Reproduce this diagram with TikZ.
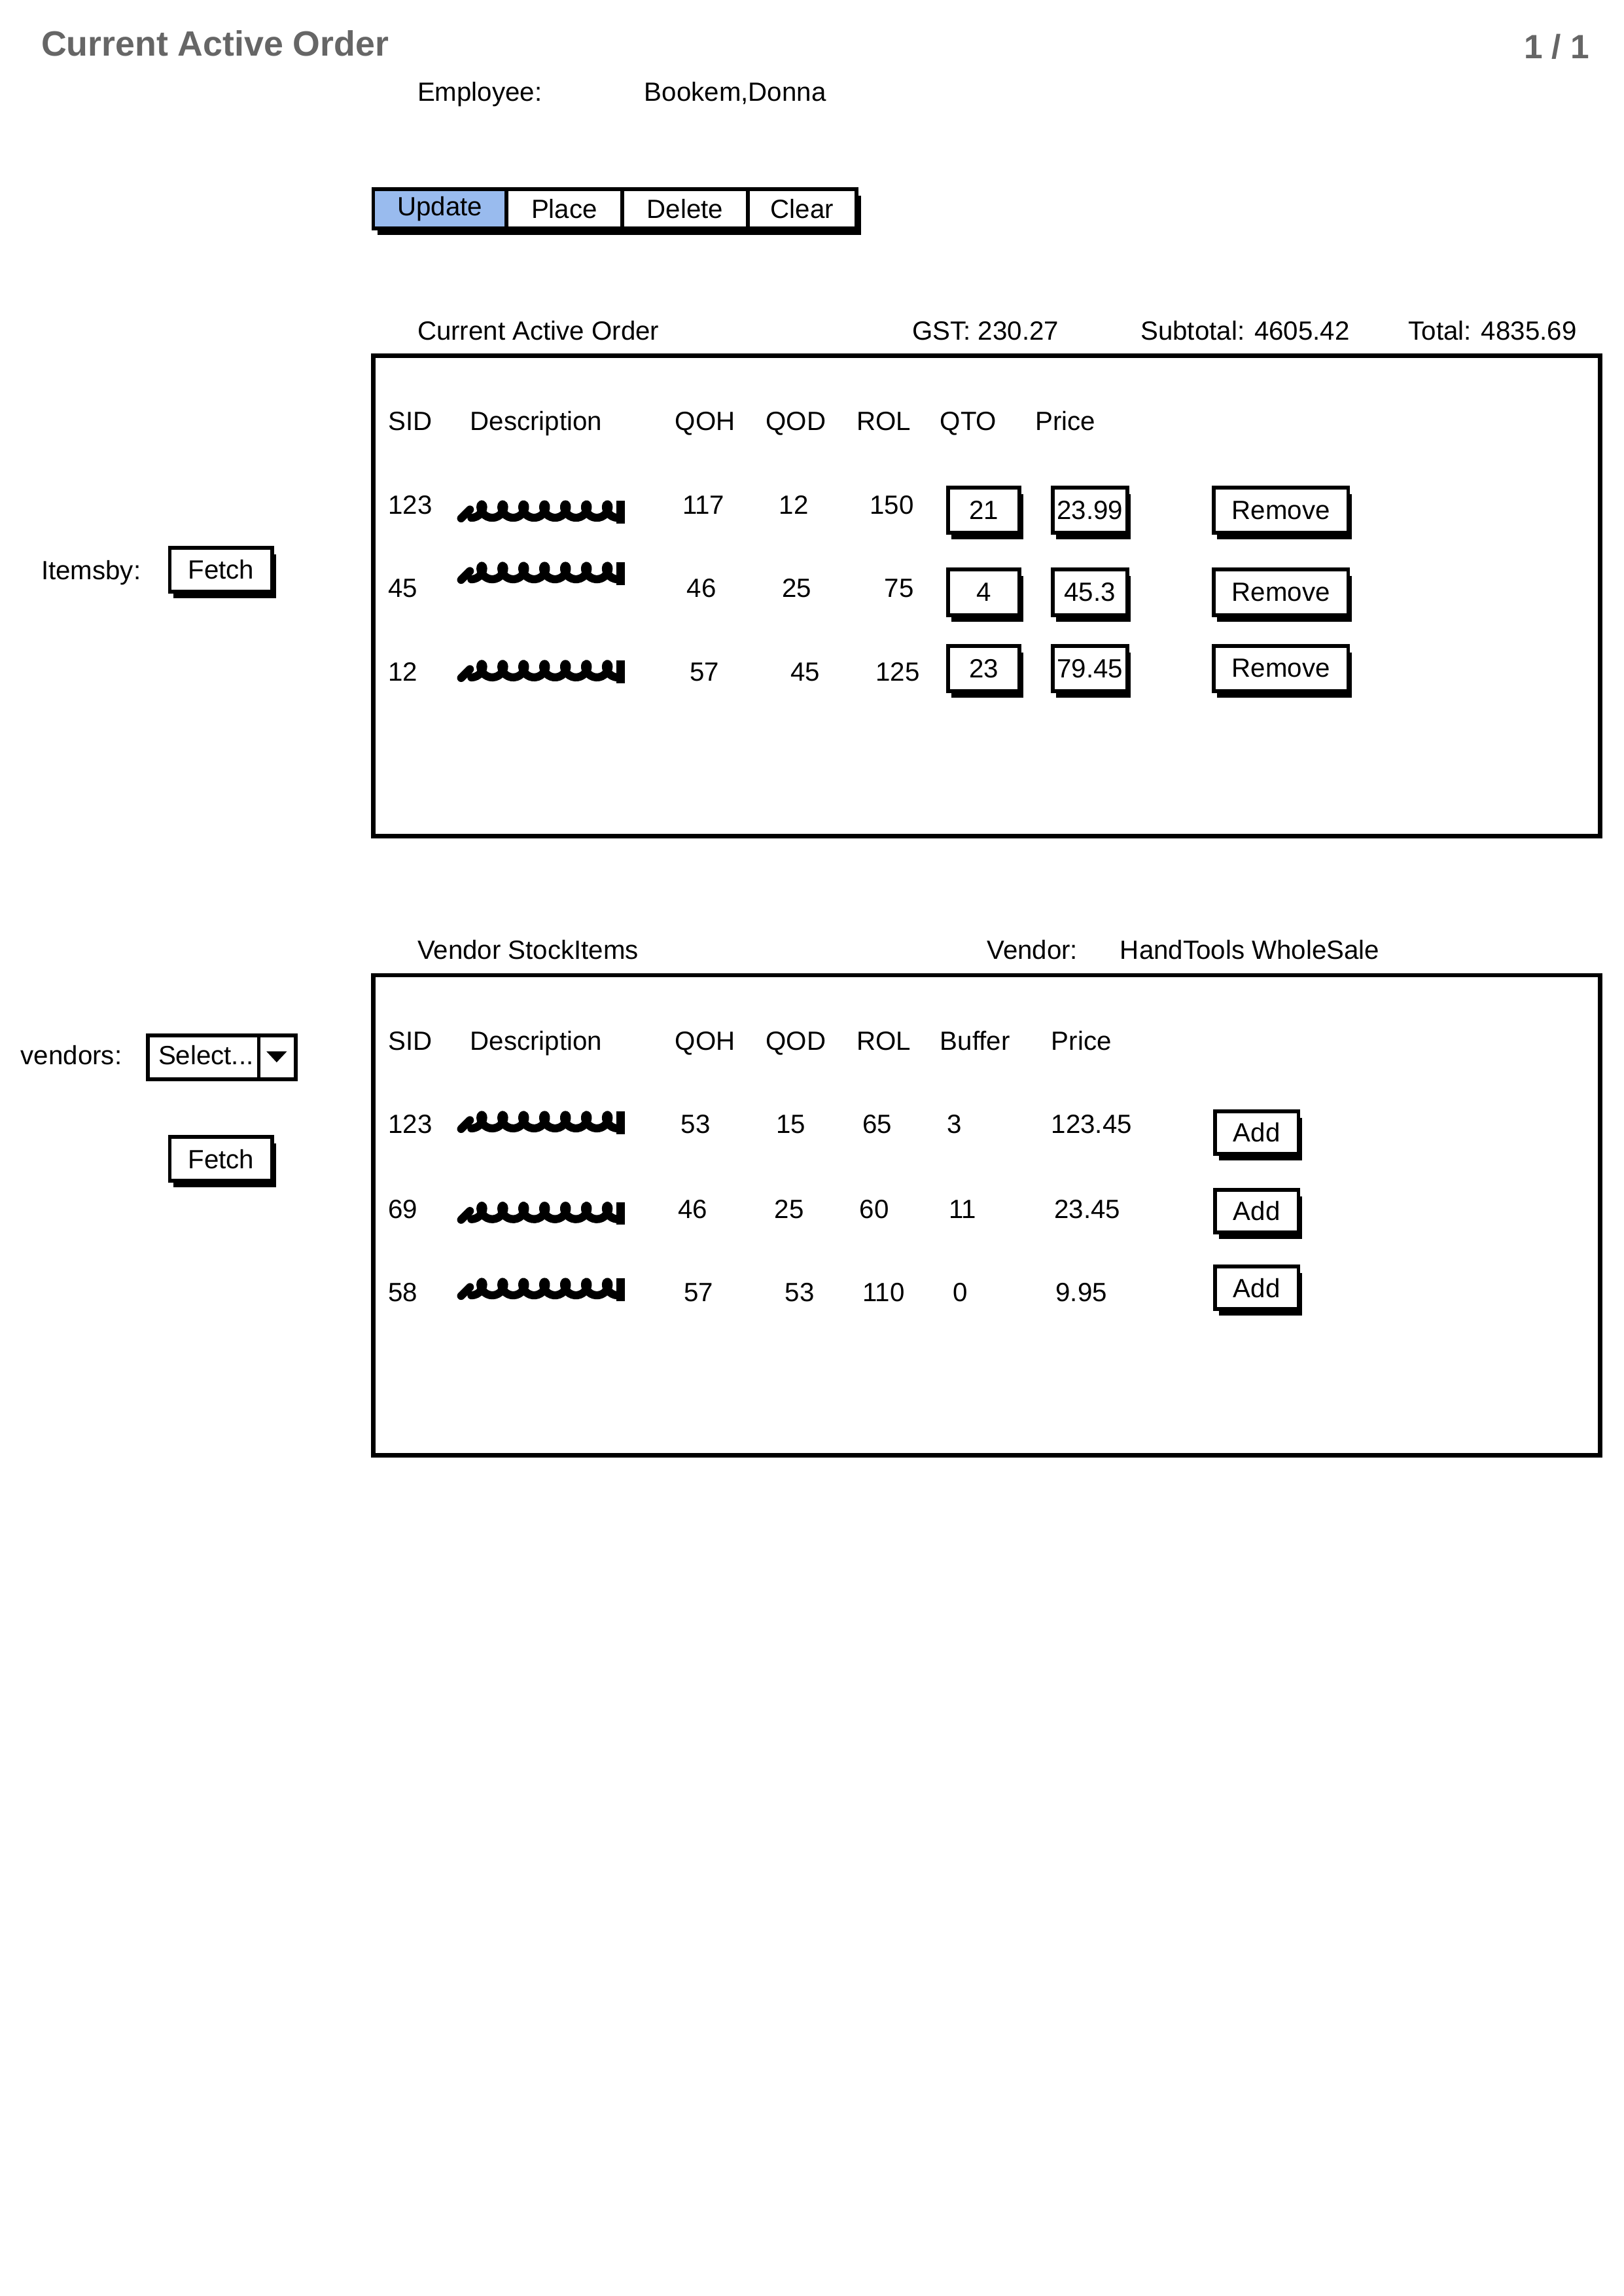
\documentclass[tikz,border=0pt]{standalone}
\usepackage{fontspec}
\setmainfont{Liberation Sans}
\usetikzlibrary{shadows}
\definecolor{titlegray}{RGB}{102,102,102}
\definecolor{tabblue}{RGB}{153,187,238}
\begin{document}
\begin{tikzpicture}[x=1pt,y=-1pt,
  txt/.style={anchor=base west, inner sep=0pt, font=\fontsize{18}{20}\selectfont},
  ttl/.style={anchor=base west, inner sep=0pt, text=titlegray, font=\fontsize{24}{28}\selectfont\bfseries},
  shad/.style={drop shadow={shadow xshift=2.5pt, shadow yshift=-4.5pt, opacity=1, fill=black}},
  ibox/.style={draw, line width=2.6pt, fill=white, inner sep=0pt, outer sep=0pt, minimum height=31pt, font=\fontsize{18}{20}\selectfont, shad},
  tabbtn/.style={draw, line width=2.6pt, fill=white, inner sep=0pt, outer sep=0pt, minimum height=27pt, font=\fontsize{18}{20}\selectfont, anchor=west},
  panel/.style={draw, line width=3pt},
  scrib/.style={line width=5.5pt, line cap=round, line join=round}
]
\useasboundingbox[fill=white] (0,0) rectangle (1109,1568);

% title
\node[ttl] (title) at (28,38) {Current Active Order};
\node[ttl, anchor=base east, font=\fontsize{23}{27}\selectfont\bfseries] (page) at (1086,40) {1 / 1};

\node[txt] (emp) at (285,69) {Employee:};
\node[txt] (empn) at (440,69) {Bookem,Donna};

% tab bar
\begin{scope}[every node/.append style={drop shadow={shadow xshift=3pt, shadow yshift=-4.5pt, opacity=1, fill=black}}]
\node[tabbtn, fill=tabblue, minimum width=91pt] (upd) at (255,142.5) {Update};
\node[tabbtn, minimum width=79pt] (plc) at (upd.east) {Place};
\node[tabbtn, minimum width=86pt] (del) at (plc.east) {Delete};
\node[tabbtn, minimum width=74pt] (clr) at (del.east) {Clear};
\end{scope}

% section 1 labels
\node[txt] (cao) at (285,232) {Current Active Order};
\node[txt] (gst) at (623,232) {GST: 230.27};
\node[txt] (sub) at (779,232) {Subtotal: 4605.42};
\node[txt] (tot) at (962,232) {Total: 4835.69};

\draw[panel] (255,243) rectangle (1093,571);

% headers
\node[txt] (h1) at (265,294) {SID};
\node[txt] (h2) at (321,294) {Description};
\node[txt] (h3) at (461,294) {QOH};
\node[txt] (h4) at (523,294) {QOD};
\node[txt] (h5) at (585,294) {ROL};
\node[txt] (h6) at (642,294) {QTO};
\node[txt] (h7) at (707,294) {Price};

% rows
\node[txt] (r1a) at (265,351) {123};
\node[txt] (r1c) at (466,351) {117};
\node[txt] (r1d) at (532,351) {12};
\node[txt] (r1e) at (594,351) {150};
\node[txt] (r2a) at (265,408) {45};
\node[txt] (r2c) at (469,408) {46};
\node[txt] (r2d) at (534,408) {25};
\node[txt] (r2e) at (604,408) {75};
\node[txt] (r3a) at (265,465) {12};
\node[txt] (r3c) at (471,465) {57};
\node[txt] (r3d) at (540,465) {45};
\node[txt] (r3e) at (598,465) {125};

\node[ibox, minimum width=49pt] (q1) at (672,348.5) {21};
\node[ibox, minimum width=51pt] (p1) at (744.5,348.5) {23.99};
\node[ibox, minimum width=92pt] (rm1) at (875,348.5) {Remove};
\node[ibox, minimum width=49pt] (q2) at (672,404.5) {4};
\node[ibox, minimum width=51pt] (p2) at (744.5,404.5) {45.3};
\node[ibox, minimum width=92pt] (rm2) at (875,404.5) {Remove};
\node[ibox, minimum width=49pt] (q3) at (672,456.5) {23};
\node[ibox, minimum width=51pt] (p3) at (744.5,456.5) {79.45};
\node[ibox, minimum width=92pt] (rm3) at (875,456.5) {Remove};

% scribbles
\foreach \yy in {349,391,458,766,828,880}{
  \draw[scrib] (315,\yy+5) -- (321,\yy-1);
  \draw[scrib] plot[smooth, domain=0:1, samples=140, variable=\t]
     ({322+100*\t + 3.8*sin(360*7*\t)}, {\yy + 4.6*cos(360*7*\t)});
  \fill (421,\yy-7) rectangle (427,\yy+8.5);
}

% left panel
\node[txt] (itb) at (28,396) {Itemsby:};
\node[ibox, minimum width=70pt, minimum height=30pt] (f1) at (151,389) {Fetch};
\node[txt] (vend) at (14,727) {vendors:};
\node[draw, line width=2.6pt, fill=white, inner sep=0pt, minimum width=101pt, minimum height=30pt] (sel) at (151.5,722) {};
\node[txt, anchor=base west] (selt) at (108,727) {Select...};
\draw[line width=2.2pt] (sel.north west) ++(77,0) -- ++(0,30);
\fill (182,718) -- (196,718) -- (189,725.5) -- cycle;
\node[ibox, minimum width=70pt, minimum height=30pt] (f2) at (151,791.5) {Fetch};

% section 2
\node[txt] (vsi) at (285,655) {Vendor StockItems};
\node[txt] (vl) at (674,655) {Vendor:};
\node[txt] (vn) at (765,655) {HandTools WholeSale};

\draw[panel] (255,666) rectangle (1093,994);

\node[txt] (g1) at (265,717) {SID};
\node[txt] (g2) at (321,717) {Description};
\node[txt] (g3) at (461,717) {QOH};
\node[txt] (g4) at (523,717) {QOD};
\node[txt] (g5) at (585,717) {ROL};
\node[txt] (g6) at (642,717) {Buffer};
\node[txt] (g7) at (718,717) {Price};

\node[txt] (s1a) at (265,774) {123};
\node[txt] (s1c) at (465,774) {53};
\node[txt] (s1d) at (530,774) {15};
\node[txt] (s1e) at (589,774) {65};
\node[txt] (s1f) at (647,774) {3};
\node[txt] (s1g) at (718,774) {123.45};
\node[txt] (s2a) at (265,832) {69};
\node[txt] (s2c) at (463,832) {46};
\node[txt] (s2d) at (529,832) {25};
\node[txt] (s2e) at (587,832) {60};
\node[txt] (s2f) at (648,832) {11};
\node[txt] (s2g) at (720,832) {23.45};
\node[txt] (s3a) at (265,889) {58};
\node[txt] (s3c) at (467,889) {57};
\node[txt] (s3d) at (536,889) {53};
\node[txt] (s3e) at (589,889) {110};
\node[txt] (s3f) at (651,889) {0};
\node[txt] (s3g) at (721,889) {9.95};

\node[ibox, minimum width=57pt, minimum height=29pt] (a1) at (858.5,773.5) {Add};
\node[ibox, minimum width=57pt, minimum height=29pt] (a2) at (858.5,827) {Add};
\node[ibox, minimum width=57pt, minimum height=29pt] (a3) at (858.5,879.5) {Add};
\end{tikzpicture}
\end{document}
